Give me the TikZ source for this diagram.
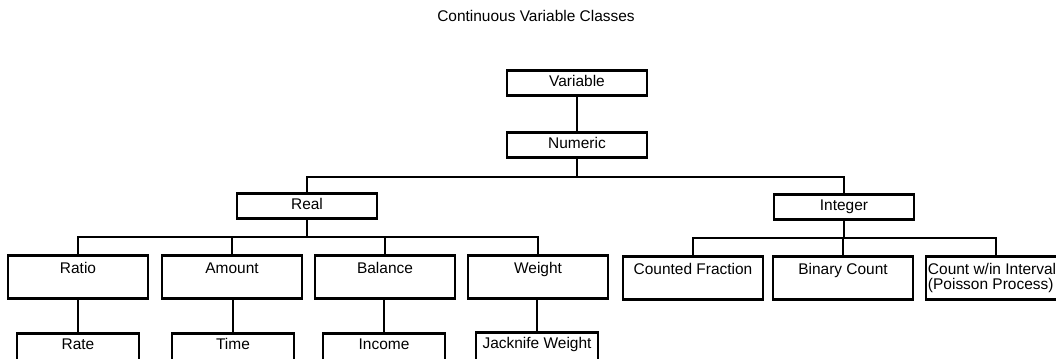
\documentclass[tikz,border=0pt]{standalone}
\usepackage{fontspec}
\setmainfont{Liberation Sans}
\begin{document}
\begin{tikzpicture}[x=0.025cm, y=-0.025cm,
    box/.style={draw=black, line width=1.8pt, rectangle, anchor=north,
        minimum width=3.5cm, inner xsep=0.05cm, inner ysep=0pt,
        font=\fontsize{11}{10.5}\selectfont},
    short/.style={box, text height=0.4cm, text depth=0.225cm},
    tall/.style={box, text height=0.45cm, text depth=0.625cm},
    leaf/.style={box, minimum width=3.05cm, text height=0.4cm, text depth=1cm},
    link/.style={draw=black, line width=1.8pt, line join=miter}]
%連續變數的分類樹
\useasboundingbox (0,0) rectangle (1056,358);
\clip (0,0) rectangle (1056,358);

\coordinate (BarA) at (0,177);
\coordinate (BarB) at (0,237);
\coordinate (BarC) at (0,238);

\node[font=\fontsize{11}{13}\selectfont] (title) at (536,16) {Continuous Variable Classes};

\foreach \n/\s/\x/\y/\t in
{ variable/short/577/69/Variable,
    numeric/short/577/131/Numeric,
    real/short/307/192/Real,
    integer/short/844/193/Integer,
    ratio/tall/78/254/Ratio,
    amount/tall/232/254/Amount,
    balance/tall/385/254/Balance,
    weight/tall/538/254/Weight,
    fraction/tall/693/255/Counted Fraction,
    binary/tall/843/255/Binary Count,
    rate/leaf/78/332/Rate,
    time/leaf/233/332/Time,
    income/leaf/384/332/Income,
    jacknife/leaf/537/331/Jacknife Weight
}
{
    \node[\s] (\n) at (\x,\y) {\t};
};
\node[tall] (poisson) at (996,255)
    {\begin{tabular}[t]{@{}p{3.4cm}@{}}Count w/in Interval\\(Poisson Process)\end{tabular}};

\draw[link] (variable) -- (numeric);
\foreach \p/\c/\b in
{ numeric/real/BarA,
    numeric/integer/BarA,
    real/ratio/BarB,
    real/amount/BarB,
    real/balance/BarB,
    real/weight/BarB,
    integer/fraction/BarC,
    integer/binary/BarC,
    integer/poisson/BarC
}
{
    \draw[link] (\p.south) |- (\b -| \c) -- (\c.north);
};
\foreach \p/\c in {ratio/rate, amount/time, balance/income, weight/jacknife}
{
    \draw[link] (\c.north) -- (\c.north |- \p.south);
};
\end{tikzpicture}
\end{document}
